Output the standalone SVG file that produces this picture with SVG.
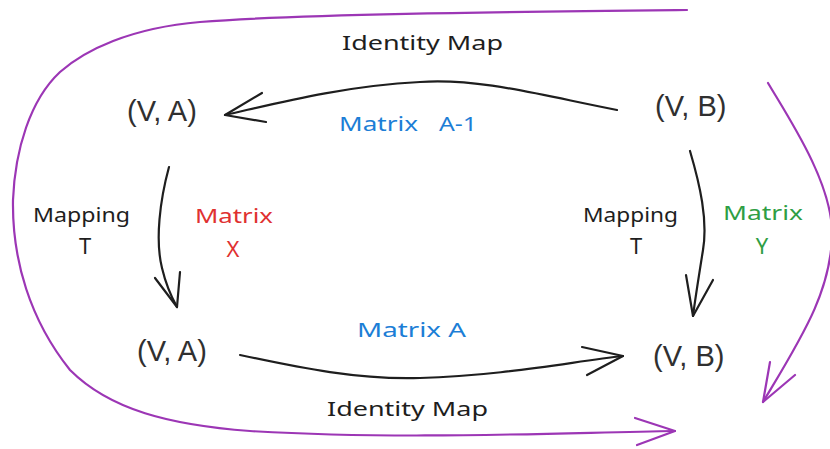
<svg xmlns="http://www.w3.org/2000/svg" width="830" height="449" viewBox="0 0 830 449">
  <style>
    .node { font-family: "Liberation Sans", Arial, sans-serif; font-size: 29px; fill: #303030; }
    .hand { font-family: "Noto Sans", "DejaVu Sans", sans-serif; font-size: 19px; }
    .big { font-size: 22px; }
    .ink { fill: #1e1e1e; }
    .blue { fill: #1c7ed6; }
    .red { fill: #e03131; }
    .green { fill: #2f9e44; }
    .edge { fill: none; stroke: #1e1e1e; stroke-width: 2.2; stroke-linecap: round; stroke-linejoin: round; }
    .loop { fill: none; stroke: #9c36b5; stroke-width: 2.2; stroke-linecap: round; stroke-linejoin: round; }
  </style>
  <rect width="830" height="449" fill="#ffffff"/>

  <!-- nodes -->
  <g id="va-top"><text class="node" x="127" y="121">(V, A)</text></g>
  <g id="vb-top"><text class="node" x="655" y="116">(V, B)</text></g>
  <g id="va-bottom"><text class="node" x="137" y="361">(V, A)</text></g>
  <g id="vb-bottom"><text class="node" x="653" y="366">(V, B)</text></g>

  <!-- connectors -->
  <g id="connectors">
    <!-- (V, B) to (V, A), top -->
    <path class="edge" d="M617,110 C540,95 480,78 420,82 C340,86 270,105 225,115"/>
    <path class="edge" d="M262,93 L225,115 L266,122"/>
    <!-- (V, A) to (V, A), left -->
    <path class="edge" d="M169,167 C160,200 155,240 162,268 C166,285 172,298 177,307"/>
    <path class="edge" d="M155,278 L177,307 L180,272"/>
    <!-- (V, B) to (V, B), right -->
    <path class="edge" d="M690,151 C700,185 708,220 703,250 C699,275 695,300 693,316"/>
    <path class="edge" d="M686,275 L693,316 L713,280"/>
    <!-- (V, A) to (V, B), bottom -->
    <path class="edge" d="M240,355 C300,368 360,380 420,378 C500,376 570,362 623,356"/>
    <path class="edge" d="M582,347 L623,356 L587,375"/>
    <!-- identity map around the left -->
    <path class="loop" d="M687,10 C500,12 300,14 200,22 C130,28 85,50 60,72 C30,100 15,150 13,200 C12,260 30,320 70,370 C110,410 170,425 250,431 C400,440 550,433 675,431"/>
    <path class="loop" d="M635,418 L675,431 L637,445"/>
    <!-- identity map on the right -->
    <path class="loop" d="M768,83 C790,120 830,180 832,230 C833,290 800,340 763,402"/>
    <path class="loop" d="M770,362 L763,402 L795,375"/>
  </g>

  <!-- labels -->
  <g id="labels" class="hand">
    <text class="ink" x="342" y="50" textLength="161" lengthAdjust="spacingAndGlyphs">Identity Map</text>
    <text class="blue" x="339" y="131" textLength="79" lengthAdjust="spacingAndGlyphs">Matrix</text>
    <text class="blue" x="439" y="131" textLength="38" lengthAdjust="spacingAndGlyphs">A-1</text>
    <text class="ink" x="33" y="222" textLength="97" lengthAdjust="spacingAndGlyphs">Mapping</text>
    <text class="ink big" x="85" y="254" text-anchor="middle">T</text>
    <text class="red" x="195" y="223" textLength="78" lengthAdjust="spacingAndGlyphs">Matrix</text>
    <text class="red big" x="233" y="257" text-anchor="middle">X</text>
    <text class="ink" x="583" y="222" textLength="95" lengthAdjust="spacingAndGlyphs">Mapping</text>
    <text class="ink big" x="636" y="254" text-anchor="middle">T</text>
    <text class="green" x="723" y="220" textLength="80" lengthAdjust="spacingAndGlyphs">Matrix</text>
    <text class="green big" x="762" y="254" text-anchor="middle">Y</text>
    <text class="blue" x="357" y="337" textLength="109" lengthAdjust="spacingAndGlyphs">Matrix A</text>
    <text class="ink" x="327" y="416" textLength="161" lengthAdjust="spacingAndGlyphs">Identity Map</text>
  </g>
</svg>
